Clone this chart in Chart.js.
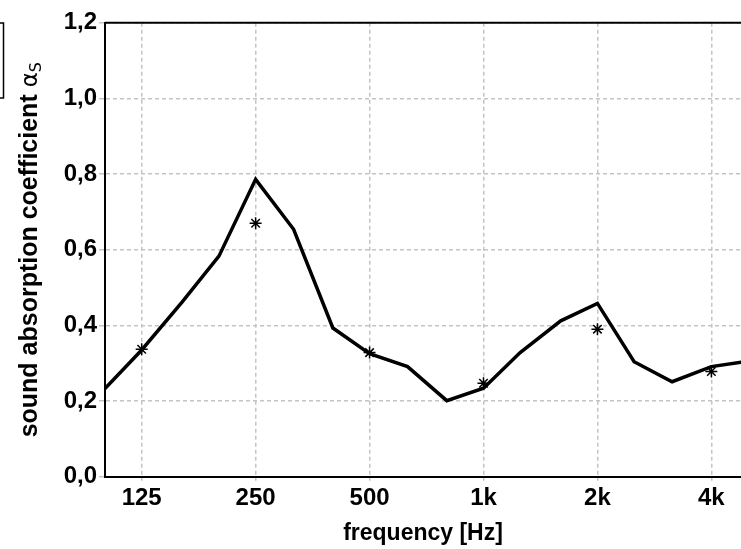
<!DOCTYPE html>
<html>
<head>
<meta charset="utf-8">
<script src="https://cdn.jsdelivr.net/npm/chart.js@4"></script>
<style>
  html, body { margin: 0; padding: 0; background: #fff; }
  #wrap { width: 741px; height: 549px; }
</style>
</head>
<body>
<div id="wrap"><canvas id="chart" width="741" height="549"></canvas></div>
<script>
// third-octave bands and the measured curve
var bandFreqs = [100, 125, 160, 200, 250, 315, 400, 500, 630, 800, 1000, 1250, 1600, 2000, 2500, 3150, 4000, 5000];
var bandAlpha = [0.233, 0.335, 0.462, 0.583, 0.786, 0.654, 0.393, 0.325, 0.291, 0.201, 0.234, 0.328, 0.412, 0.458, 0.304, 0.251, 0.291, 0.305];

// octave band values (star markers)
var octaveFreqs = [125, 250, 500, 1000, 2000, 4000];
var octaveAlpha = [0.337, 0.670, 0.328, 0.247, 0.390, 0.278];

var tickLabels = ['125', '250', '500', '1k', '2k', '4k'];

var FONT = '"Liberation Sans", Arial, sans-serif';
var GRID = '#c4c4c4';

// top border, cut-off legend box and the y title with subscript
var extras = {
  id: 'extras',
  afterDraw: function(chart) {
    var ctx = chart.ctx, a = chart.chartArea;
    ctx.save();
    ctx.strokeStyle = '#000';
    ctx.lineWidth = 2;
    ctx.beginPath();
    ctx.moveTo(a.left, a.top);
    ctx.lineTo(a.right, a.top);
    ctx.stroke();

    ctx.lineWidth = 1.5;
    ctx.strokeRect(-10, 23, 13.5, 75);

    var main = 'sound absorption coefficient ';
    ctx.translate(37, (a.top + a.bottom) / 2);
    ctx.rotate(-Math.PI / 2);
    ctx.fillStyle = '#000';
    ctx.textBaseline = 'alphabetic';
    ctx.font = 'bold 25px ' + FONT;
    var w1 = ctx.measureText(main).width;
    ctx.font = '23px "DejaVu Sans", sans-serif';
    var w2 = ctx.measureText('\u03b1').width;
    ctx.font = '16px "DejaVu Sans", sans-serif';
    var w3 = ctx.measureText('S').width;
    var x = -(w1 + w2 + w3) / 2;
    ctx.font = 'bold 25px ' + FONT;
    ctx.fillText(main, x, 0);
    ctx.font = '23px "DejaVu Sans", sans-serif';
    ctx.fillText('\u03b1', x + w1, 0);
    ctx.font = '16px "DejaVu Sans", sans-serif';
    ctx.fillText('S', x + w1 + w2, 4);
    ctx.restore();
  }
};

new Chart(document.getElementById('chart'), {
  type: 'line',
  data: {
    datasets: [
      {
        data: bandFreqs.map(function(f, i) { return {x: f, y: bandAlpha[i]}; }),
        borderColor: '#000',
        borderWidth: 3.5,
        pointRadius: 0,
        tension: 0
      },
      {
        data: octaveFreqs.map(function(f, i) { return {x: f, y: octaveAlpha[i]}; }),
        showLine: false,
        pointStyle: 'star',
        pointRadius: 6,
        borderColor: '#000',
        borderWidth: 1.5
      }
    ]
  },
  plugins: [extras],
  options: {
    responsive: false,
    animation: false,
    layout: { autoPadding: false, padding: { top: 22.7, right: 0, left: 0, bottom: 0 } },
    plugins: { legend: { display: false }, tooltip: { enabled: false } },
    scales: {
      x: {
        type: 'logarithmic',
        min: 100,
        max: 4790,
        afterBuildTicks: function(scale) {
          scale.ticks = octaveFreqs.map(function(v) { return {value: v}; });
        },
        afterFit: function(scale) {
          scale.height = 72.3;
          scale.paddingLeft = 0;
          scale.paddingRight = 0;
        },
        border: { color: '#000', width: 2, dash: [4, 3] },
        grid: { color: GRID, lineWidth: 1.5, tickLength: 4, tickBorderDash: [4, 3] },
        ticks: {
          autoSkip: false,
          maxRotation: 0,
          padding: 3,
          color: '#000',
          font: { family: FONT, size: 24, weight: 'bold' },
          callback: function(v, i) { return tickLabels[i]; }
        },
        title: {
          display: true,
          text: 'frequency [Hz]',
          color: '#000',
          font: { family: FONT, size: 23, weight: 'bold' },
          padding: { top: 0, bottom: 2 }
        }
      },
      y: {
        min: 0,
        max: 1.2,
        afterFit: function(scale) { scale.width = 105; },
        border: { color: '#000', width: 2, dash: [4, 3] },
        grid: { color: GRID, lineWidth: 1.5, tickLength: 6 },
        ticks: {
          stepSize: 0.2,
          padding: 2,
          color: '#000',
          font: { family: FONT, size: 24, weight: 'bold' },
          callback: function(v) { return v.toFixed(1).replace('.', ','); }
        }
      }
    }
  }
});
</script>
</body>
</html>
